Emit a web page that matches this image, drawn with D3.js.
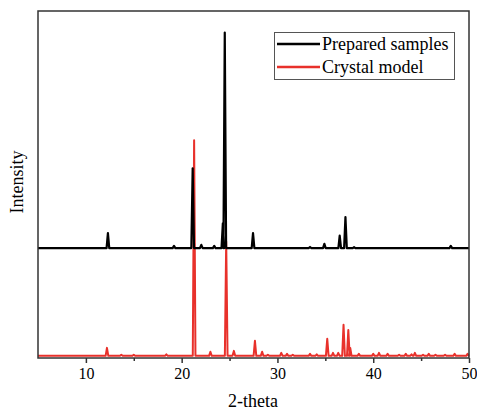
<!DOCTYPE html>
<html>
<head>
<meta charset="utf-8">
<script src="https://cdn.jsdelivr.net/npm/d3@7"></script>
<style>
  body { margin: 0; background: #fff; }
  text { font-family: "Liberation Serif", "DejaVu Serif", serif; fill: #000; }
</style>
</head>
<body>
<svg id="chart" width="477" height="410"></svg>
<script>
// peaks: [2-theta, relative intensity]
const prepared_peaks = [
  [12.3, 7], [19.2, 1], [21.15, 37], [22.05, 1.5], [23.4, 1],
  [24.3, 11.5], [24.5, 100], [27.45, 7], [33.4, 0.5], [34.9, 2],
  [36.5, 5.8], [37.1, 14.4], [38.0, 0.4], [48.1, 1]
];
const model_peaks = [
  [12.2, 3.7], [13.7, 0.5], [15.0, 0.5], [18.4, 0.7], [21.3, 100],
  [23.0, 1.9], [24.65, 53], [25.45, 2.3], [27.65, 7], [28.4, 1.9],
  [29.0, 0.5], [30.4, 1.4], [31.0, 0.9], [31.6, 0.5], [33.4, 0.9],
  [34.1, 0.7], [35.2, 7.9], [35.8, 1.4], [36.35, 1.4], [36.9, 14.4],
  [37.4, 12], [37.6, 3.7], [38.5, 0.9], [40.0, 0.9], [40.6, 1.4],
  [41.5, 0.9], [42.7, 0.5], [43.4, 0.9], [44.0, 0.7], [44.35, 1.4],
  [45.2, 0.5], [45.8, 0.9], [46.5, 0.5], [47.5, 0.5], [48.5, 0.9],
  [49.85, 0.9]
];
const x_ticks = [10, 20, 30, 40, 50];
const x_minor = [15, 25, 35, 45];
const series_names = ['Prepared samples', 'Crystal model'];
const series_offsets = [51, 1];

const margin = {left: 38, right: 8, top: 11, bottom: 52};
const width = 477, height = 410;
const svg = d3.select('#chart');

let x = d3.scaleLinear().domain([5, 50]).range([margin.left, width - margin.right]);
let y = d3.scaleLinear().domain([0, 161]).range([height - margin.bottom, margin.top]);

// turn a peak list into a spiky trace sitting on a baseline
const make_trace = function(peaks, offset) {
  let half = 0.14;
  let pts = [[5, offset]];
  let sorted = peaks.slice().sort((a, b) => a[0] - b[0]);
  sorted.forEach(function(p) {
    pts.push([p[0] - half, offset]);
    pts.push([p[0], offset + p[1]]);
    pts.push([p[0] + half, offset]);
  });
  pts.push([50, offset]);
  return pts;
};

const line = d3.line().x(d => x(d[0])).y(d => y(d[1]));

svg.append('path')
  .attr('d', line(make_trace(model_peaks, series_offsets[1])))
  .attr('fill', 'none').attr('stroke', '#e8312b').attr('stroke-width', 2)
  .attr('stroke-linejoin', 'round');
svg.append('path')
  .attr('d', line(make_trace(prepared_peaks, series_offsets[0])))
  .attr('fill', 'none').attr('stroke', '#000').attr('stroke-width', 2.2)
  .attr('stroke-linejoin', 'round');

// frame
svg.append('rect')
  .attr('x', margin.left).attr('y', margin.top)
  .attr('width', width - margin.right - margin.left)
  .attr('height', height - margin.bottom - margin.top)
  .attr('fill', 'none').attr('stroke', '#333').attr('stroke-width', 1.5);

let xaxis = svg.append('g').attr('transform', 'translate(0,' + (height - margin.bottom) + ')');
xaxis.call(d3.axisBottom(x).tickValues(x_ticks).tickSize(5).tickPadding(5).tickFormat(d3.format('d')));
xaxis.select('.domain').remove();
xaxis.selectAll('line').attr('stroke', '#333').attr('stroke-width', 1.5);
xaxis.selectAll('text').style('font-size', '16px').style('font-family', '"Liberation Serif", "DejaVu Serif", serif');
let xminor = svg.append('g').attr('transform', 'translate(0,' + (height - margin.bottom) + ')');
xminor.call(d3.axisBottom(x).tickValues(x_minor).tickSize(3).tickFormat(''));
xminor.select('.domain').remove();
xminor.selectAll('line').attr('stroke', '#333').attr('stroke-width', 1.5);

svg.append('text').attr('x', 253).attr('y', 407).attr('text-anchor', 'middle')
  .style('font-size', '18px').text('2-theta');
svg.append('text').attr('transform', 'translate(23,182) rotate(-90)').attr('text-anchor', 'middle')
  .style('font-size', '18px').text('Intensity');

// legend
let lg = svg.append('g');
lg.append('rect').attr('x', 274.5).attr('y', 32.5).attr('width', 180).attr('height', 47)
  .attr('fill', '#fff').attr('stroke', '#555').attr('stroke-width', 1);
const legend_colors = ['#000', '#e8312b'];
series_names.forEach(function(name, i) {
  let yy = 44 + i * 23;
  lg.append('line').attr('x1', 277).attr('x2', 320).attr('y1', yy).attr('y2', yy)
    .attr('stroke', legend_colors[i]).attr('stroke-width', 2.5);
  lg.append('text').attr('x', 322).attr('y', yy + 6).style('font-size', '18px').text(name);
});
</script>
</body>
</html>
